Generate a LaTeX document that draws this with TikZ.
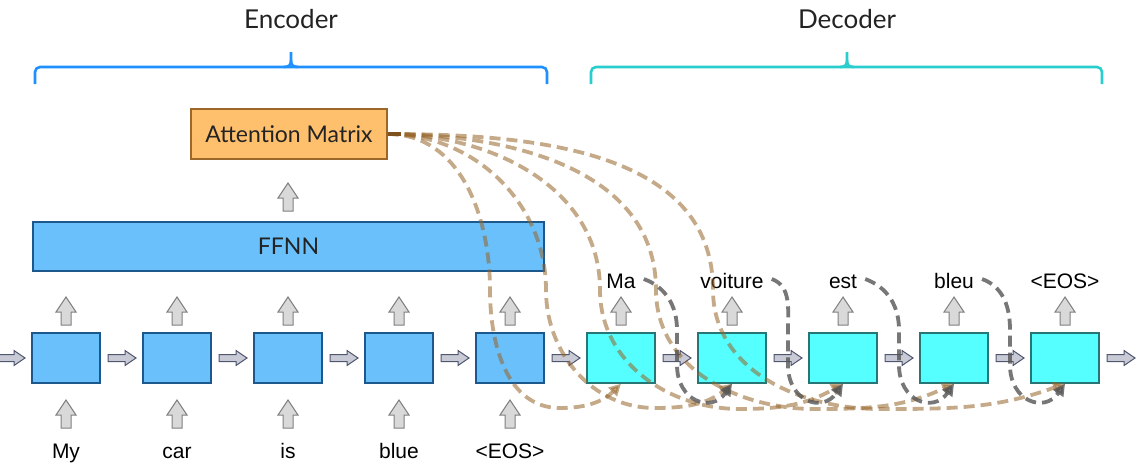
\documentclass[tikz,border=0pt]{standalone}
\usepackage{fontspec}
\setmainfont{Liberation Sans}
\newfontfamily\avn{Lato}
\usetikzlibrary{arrows.meta,calc}
\definecolor{efill}{RGB}{105,192,250}
\definecolor{eborder}{RGB}{28,88,140}
\definecolor{dfill}{RGB}{85,255,255}
\definecolor{dborder}{RGB}{38,118,118}
\definecolor{amfill}{RGB}{255,192,110}
\definecolor{amborder}{RGB}{156,104,42}
\definecolor{ebrace}{RGB}{30,144,255}
\definecolor{dbrace}{RGB}{40,205,205}
\definecolor{tanc}{RGB}{150,100,40}
\definecolor{stubc}{RGB}{125,82,30}
\definecolor{grayc}{RGB}{85,85,85}
\definecolor{harrfill}{RGB}{200,202,214}
\definecolor{harrdraw}{RGB}{80,86,110}
\definecolor{uarrfill}{RGB}{217,217,217}
\definecolor{uarrdraw}{RGB}{128,128,128}
\definecolor{txt}{RGB}{35,35,35}
\begin{document}
\begin{tikzpicture}[x=1pt,y=1pt,
  ebox/.style={draw=eborder,fill=efill,line width=1.3pt,minimum width=68pt,minimum height=50pt,inner sep=0pt},
  dbox/.style={draw=dborder,fill=dfill,line width=1.3pt,minimum width=68pt,minimum height=50pt,inner sep=0pt},
  word/.style={font=\fontsize{21}{24}\selectfont,anchor=base,inner sep=0pt,text=black},
  lbl/.style={font=\avn\fontsize{26}{30}\selectfont,text=txt,inner sep=0pt},
  tanline/.style={draw=tanc,opacity=0.55,line width=3.8pt,dash pattern=on 11pt off 6pt,-{Triangle[length=12pt,width=12pt]}},
  grayline/.style={draw=grayc,opacity=0.8,line width=3.8pt,dash pattern=on 11pt off 6pt,-{Triangle[length=12pt,width=12pt]}},
  bracestyle/.style={line width=2.6pt,rounded corners=5pt},
  tipstyle/.style={line width=2.6pt},
  harrow/.pic={\draw[fill=harrfill,draw=harrdraw,line width=1pt] (0,3.5) -- (17,3.5) -- (17,7.5) -- (28,0) -- (17,-7.5) -- (17,-3.5) -- (0,-3.5) -- cycle;},
  uarrow/.pic={\draw[fill=uarrfill,draw=uarrdraw,line width=1pt] (-5,0) -- (-5,13) -- (-10,13) -- (0,28) -- (10,13) -- (5,13) -- (5,0) -- cycle;}
]
\useasboundingbox (0,0) rectangle (1139,-467);

% labels and braces
\node[lbl] (enc) at (291,-19) {Encoder};
\node[lbl] (dec) at (847,-19) {Decoder};
\draw[bracestyle,draw=ebrace] (35,-84) -- (35,-67) -- (547,-67) -- (547,-84);
\draw[tipstyle,draw=ebrace] (284,-67) .. controls (289,-67) and (291,-65) .. (291,-60) -- (291,-52);
\draw[tipstyle,draw=ebrace] (298,-67) .. controls (293,-67) and (291,-65) .. (291,-60);
\draw[bracestyle,draw=dbrace] (591,-84) -- (591,-67) -- (1102,-67) -- (1102,-84);
\draw[tipstyle,draw=dbrace] (840,-67) .. controls (845,-67) and (847,-65) .. (847,-60) -- (847,-52);
\draw[tipstyle,draw=dbrace] (854,-67) .. controls (849,-67) and (847,-65) .. (847,-60);

% attention matrix and FFNN
\node[draw=amborder,fill=amfill,line width=1.2pt,minimum width=196pt,minimum height=50pt,inner sep=0pt,font=\avn\fontsize{23}{26}\selectfont,text=txt] (am) at (289,-134) {Attention Matrix};
\node[draw=eborder,fill=efill,line width=1.3pt,minimum width=511pt,minimum height=49pt,inner sep=0pt,font=\avn\fontsize{23}{26}\selectfont,text=txt] (ffnn) at (288.5,-246.5) {FFNN};
\pic at (288,-211) {uarrow};

% encoder cells
\foreach \i/\x/\w in {1/66/My,2/177/car,3/288/is,4/399/blue,5/510/{<EOS>}}{
  \node[ebox] (e\i) at (\x,-358) {};
  \pic at (\x,-325) {uarrow};
  \pic at (\x,-428) {uarrow};
  \node[word] (in\i) at (\x,-458) {\w};
}
% decoder cells
\foreach \i/\x/\w in {1/621/Ma,2/732/voiture,3/843/est,4/954/bleu,5/1065/{<EOS>}}{
  \node[dbox] (d\i) at (\x,-358) {};
  \pic at (\x,-325) {uarrow};
  \node[word] (w\i) at (\x,-288) {\w};
}
% horizontal arrows
\foreach \x in {-3,108,219,330,441,552,663,774,885,996,1107}{
  \pic at (\x,-358) {harrow};
}

% attention curves
\draw[tanline] (am.east) to[out=0,in=90] (490,-290) to[out=-90,in=180] (560,-408) to[out=0,in=-135] (d1.south);
\draw[tanline] (am.east) to[out=0,in=90] (546,-290) to[out=-90,in=180] (655,-408) to[out=0,in=-140] (d2.south);
\draw[tanline] (am.east) to[out=0,in=90] (600,-290) to[out=-90,in=180] (740,-409) to[out=0,in=-150] (d3.south);
\draw[tanline] (am.east) to[out=0,in=90] (656,-290) to[out=-90,in=180] (815,-409) to[out=0,in=-155] (d4.south);
\draw[tanline] (am.east) to[out=0,in=90] (713,-290) to[out=-90,in=180] (880,-409) to[out=0,in=-160] (d5.south);
\draw[stubc,line width=3.8pt] (am.east) -- ++(13,0);

% feedback curves
\foreach \i/\j/\g in {1/2/677,2/3/788,3/4/899,4/5/1010}{
  \coordinate (s\i) at ($(w\i.base east)+(8,9)$);
  \draw[grayline] (s\i) to[out=-20,in=90] (\g,-330) -- (\g,-365) to[out=-90,in=-125,looseness=1.6] (d\j.south);
}
\end{tikzpicture}
\end{document}
